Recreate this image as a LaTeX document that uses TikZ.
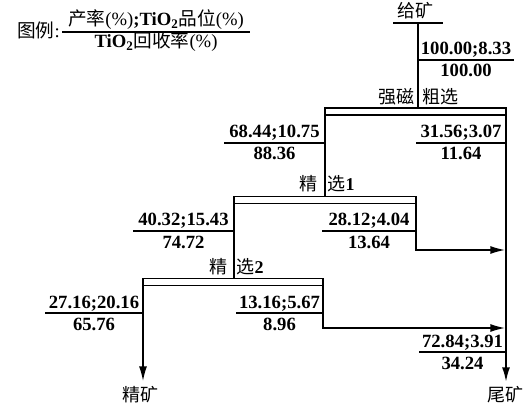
\documentclass[tikz,border=0pt]{standalone}
\usepackage{fontspec}
\setmainfont{Liberation Serif}
\newfontfamily\cjkfont{Noto Sans CJK SC}
\usetikzlibrary{arrows.meta,calc}
\newcommand\zh[1]{{\cjkfont\mdseries #1}}
\newcommand\flab[6]{%
  \draw[rulel] (#2,#4) coordinate (#1l) -- (#3,#4) coordinate (#1r);
  \node[num] (#1n) at ($(#1l)!0.5!(#1r)+(0,-5)$) {#5};
  \node[num] (#1d) at ($(#1l)!0.5!(#1r)+(0,17)$) {#6};}
\begin{document}
\begin{tikzpicture}[x=0.75pt,y=-0.75pt,
  box/.style={draw,line width=1.1pt,inner sep=0pt,outer sep=0pt,minimum height=5.25pt},
  flow/.style={line width=1.1pt},
  tail/.style={line width=1.5pt},
  tip/.style={-{Latex[length=11pt,width=6pt]}},
  rulel/.style={line width=0.8pt},
  num/.style={font=\fontsize{14}{16}\selectfont\bfseries,inner sep=0pt,anchor=base},
  zhl/.style={font=\fontsize{13.5}{15}\selectfont\cjkfont,inner sep=0pt}]
\useasboundingbox (0,0) rectangle (525,406);
% legend
\node[zhl,font=\fontsize{14}{16}\selectfont\cjkfont,anchor=east] (leg) at (60,30) {图例\rmfamily:};
\draw[rulel] (62,32) coordinate (legl) -- (250,32) coordinate (legr);
\node[inner sep=0pt,font=\fontsize{14}{16}\selectfont,anchor=base] (legn) at ($(legl)!0.5!(legr)+(0,-6)$)
  {\zh{产率}(\%)\textbf{;TiO\textsubscript{2}}\zh{品位}(\%)};
\node[inner sep=0pt,font=\fontsize{14}{16}\selectfont,anchor=base] (legd) at ($(legl)!0.5!(legr)+(0,16)$)
  {\textbf{TiO\textsubscript{2}}\zh{回收率}(\%)};
% feed
\node[zhl] (feed) at (415,11) {给矿};
\draw[flow] (393,23) coordinate (fl) -- (443,23) coordinate (fr);
\coordinate (feedc) at (418,23);
% boxes
\node[box,minimum width=135.75pt] (rough) at (415.5,111.5) {};
\node[box,minimum width=136.5pt] (c1) at (325,200) {};
\node[box,minimum width=135pt] (c2) at (233,282) {};
% box labels
\node[zhl] (r1) at (396,97) {强磁};
\node[zhl] (r2) at (440,97) {粗选};
\node[zhl] (k1) at (308,184) {精};
\node[zhl] (k1b) at (341,184) {选\rmfamily\bfseries 1};
\node[zhl] (k2) at (218,267) {精};
\node[zhl] (k2b) at (250,267) {选\rmfamily\bfseries 2};
% coordinates
\coordinate (tailend) at (506,382);
\coordinate (t1) at (505,250);
\coordinate (t2) at (505,328);
\coordinate (concend) at (143,381);
% connectors
\draw[flow] (feedc) -- (feedc |- rough.north);
\draw[flow] (rough.south west) -- (rough.south west |- c1.north);
\draw[tail,tip] (rough.south east) -- (tailend);
\draw[flow] (c1.south west) -- (c1.south west |- c2.north);
\draw[flow,tip] (c1.south east) |- (t1);
\draw[flow,tip] (c2.south west) -- (concend);
\draw[flow,tip] (c2.south east) |- (t2);
% products
\node[zhl] (conc) at (140,395) {精矿};
\node[zhl] (tails) at (505,395) {尾矿};
% flow labels
\flab{a}{418}{514}{60}{100.00;8.33}{100.00}
\flab{b}{224}{325}{143}{68.44;10.75}{88.36}
\flab{c}{416}{506}{143}{31.56;3.07}{11.64}
\flab{d}{133}{234}{231}{40.32;15.43}{74.72}
\flab{e}{322}{416}{231}{28.12;4.04}{13.64}
\flab{f}{45}{143}{313}{27.16;20.16}{65.76}
\flab{g}{236}{323}{313}{13.16;5.67}{8.96}
\flab{h}{419}{506}{352}{72.84;3.91}{34.24}
\end{tikzpicture}
\end{document}
